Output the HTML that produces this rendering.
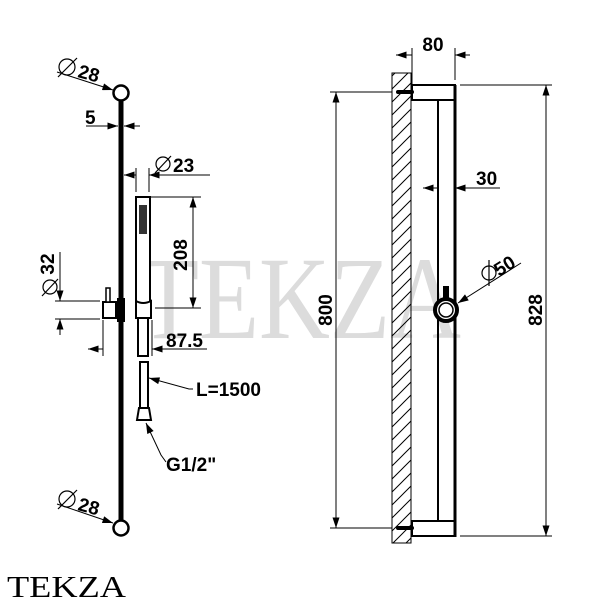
<!DOCTYPE html>
<html><head><style>body{margin:0;background:#fff}svg{display:block}</style></head><body>
<svg width="600" height="600" viewBox="0 0 600 600" xmlns="http://www.w3.org/2000/svg" font-family="Liberation Sans, sans-serif" font-weight="bold">
<defs>
<marker id="a" viewBox="0 0 12 8" refX="12" refY="4" markerWidth="12" markerHeight="7" orient="auto-start-reverse" markerUnits="userSpaceOnUse"><path d="M0,0L12,4L0,8z" fill="#000"/></marker>
<pattern id="h" width="13" height="13" patternUnits="userSpaceOnUse"><path d="M0,13L13,0M-3,3L3,-3M10,16L16,10" stroke="#000" stroke-width="1"/></pattern>
</defs>
<text x="300" y="338" text-anchor="middle" font-family="Liberation Serif, serif" font-weight="normal" font-size="118" fill="#dcdcdc" textLength="322" lengthAdjust="spacingAndGlyphs">TEKZA</text>

<line x1="121" y1="100" x2="121" y2="520" stroke="#000" stroke-width="5"/>
<circle cx="121" cy="93" r="7.5" fill="#fff" stroke="#000" stroke-width="2.5"/>
<circle cx="121" cy="528" r="7.5" fill="#fff" stroke="#000" stroke-width="2.5"/>
<rect x="136" y="197" width="14" height="108" fill="#fff" stroke="#000" stroke-width="2"/>
<rect x="139" y="205" width="8" height="29" fill="#333"/>
<path d="M103,302h13v16h-13z" fill="#fff" stroke="#000" stroke-width="2"/>
<rect x="106" y="288" width="4" height="14" fill="#fff" stroke="#000" stroke-width="1.5"/>
<path d="M136,301q7,4 15,0v17h-15z" fill="#fff" stroke="#000" stroke-width="2"/>
<rect x="117" y="298" width="8" height="24" fill="#000"/>
<rect x="138" y="318" width="10" height="38" fill="#fff" stroke="#000" stroke-width="2"/>
<rect x="140" y="362" width="8" height="47" fill="#fff" stroke="#000" stroke-width="2"/>
<path d="M137,420l2,-12h10l2,12z" fill="#fff" stroke="#000" stroke-width="2"/>

<g stroke="#000" stroke-width="1" fill="none">
<line x1="86" y1="126" x2="118" y2="126" marker-end="url(#a)"/>
<line x1="140" y1="126" x2="124" y2="126" marker-end="url(#a)"/>
<line x1="136" y1="168" x2="136" y2="192"/><line x1="149" y1="168" x2="149" y2="192"/>
<line x1="124" y1="175" x2="136" y2="175" marker-start="url(#a)"/>
<line x1="210" y1="175" x2="149" y2="175" marker-end="url(#a)"/>
<line x1="150" y1="197" x2="201" y2="197"/><line x1="155" y1="308" x2="201" y2="308"/>
<line x1="193" y1="197" x2="193" y2="308" marker-start="url(#a)" marker-end="url(#a)"/>
<line x1="55" y1="301" x2="100" y2="301"/><line x1="55" y1="319" x2="100" y2="319"/>
<line x1="60" y1="252" x2="60" y2="301" marker-end="url(#a)"/>
<line x1="60" y1="335" x2="60" y2="319" marker-end="url(#a)"/>
<line x1="103" y1="320" x2="103" y2="356"/><line x1="152" y1="320" x2="152" y2="356"/>
<line x1="88" y1="349" x2="103" y2="349" marker-start="url(#a)"/>
<line x1="207" y1="349" x2="152" y2="349" marker-end="url(#a)"/>
<polyline points="193,389 189,389 149,378" marker-end="url(#a)"/>
<polyline points="166,462 161,455 146,423" marker-end="url(#a)"/>
<line x1="57" y1="72" x2="113" y2="90" marker-end="url(#a)"/>
<line x1="57" y1="504" x2="113" y2="523" marker-end="url(#a)"/>
</g>
<g font-size="19" fill="#000">
<text x="85" y="124">5</text>
<text x="173" y="172">23</text>
<text transform="translate(187,255) rotate(-90)" text-anchor="middle">208</text>
<text transform="translate(54,264) rotate(-90)" text-anchor="middle">32</text>
<text x="166" y="347">87.5</text>
<text x="196" y="396">L=1500</text>
<text x="166" y="471">G1/2"</text>
<text transform="translate(77,77) rotate(15)">28</text>
<text transform="translate(77,510) rotate(15)">28</text>
</g>
<g fill="none" stroke="#000" stroke-width="1.2">
<circle cx="67" cy="67" r="8"/><line x1="58" y1="77" x2="77" y2="58"/>
<circle cx="67" cy="499" r="8"/><line x1="58" y1="509" x2="77" y2="490"/>
<circle cx="163" cy="164" r="7"/><line x1="155" y1="173" x2="171" y2="156"/>
<circle cx="50" cy="287" r="7"/><line x1="42" y1="296" x2="58" y2="279"/>
<circle cx="489" cy="273" r="7"/><line x1="489" y1="260" x2="489" y2="286"/>
</g>

<rect x="392" y="73" width="19" height="470" fill="url(#h)" stroke="#000" stroke-width="1"/>
<rect x="412" y="85" width="43" height="15" fill="#fff" stroke="#000" stroke-width="2"/>
<rect x="412" y="521" width="43" height="15" fill="#fff" stroke="#000" stroke-width="2"/>
<line x1="455" y1="85" x2="455" y2="537" stroke="#000" stroke-width="3"/>
<line x1="438" y1="100" x2="438" y2="521" stroke="#000" stroke-width="2"/>
<path d="M398,92h14M398,528h14" stroke="#000" stroke-width="4" stroke-linecap="round"/>
<rect x="443" y="286" width="6" height="14" fill="#000"/>
<circle cx="446" cy="310" r="11" fill="#fff" stroke="#000" stroke-width="4"/>
<circle cx="446" cy="310" r="7" fill="none" stroke="#000" stroke-width="1.5"/>
<g stroke="#000" stroke-width="1" fill="none">
<line x1="412" y1="48" x2="412" y2="85"/><line x1="455" y1="48" x2="455" y2="80"/>
<line x1="396" y1="55" x2="412" y2="55" marker-start="url(#a)"/>
<line x1="470" y1="55" x2="455" y2="55" marker-end="url(#a)"/>
<line x1="423" y1="188" x2="438" y2="188" marker-start="url(#a)"/>
<line x1="500" y1="188" x2="455" y2="188" marker-end="url(#a)"/>
<line x1="521" y1="263" x2="458" y2="303" marker-end="url(#a)"/>
<line x1="330" y1="92" x2="392" y2="92"/><line x1="330" y1="528" x2="392" y2="528"/>
<line x1="336" y1="92" x2="336" y2="528" marker-start="url(#a)" marker-end="url(#a)"/>
<line x1="460" y1="85" x2="552" y2="85"/><line x1="460" y1="536" x2="552" y2="536"/>
<line x1="546" y1="85" x2="546" y2="536" marker-start="url(#a)" marker-end="url(#a)"/>
</g>
<g font-size="19" fill="#000">
<text x="433" y="51" text-anchor="middle">80</text>
<text x="476" y="185">30</text>
<text transform="translate(499,277) rotate(-32)">50</text>
<text transform="translate(332,310) rotate(-90)" text-anchor="middle">800</text>
<text transform="translate(542,310) rotate(-90)" text-anchor="middle">828</text>
</g>
<text x="7" y="597" font-family="Liberation Serif, serif" font-weight="normal" font-size="31" fill="#000" textLength="119" lengthAdjust="spacingAndGlyphs">TEKZA</text>
</svg>
</body></html>
